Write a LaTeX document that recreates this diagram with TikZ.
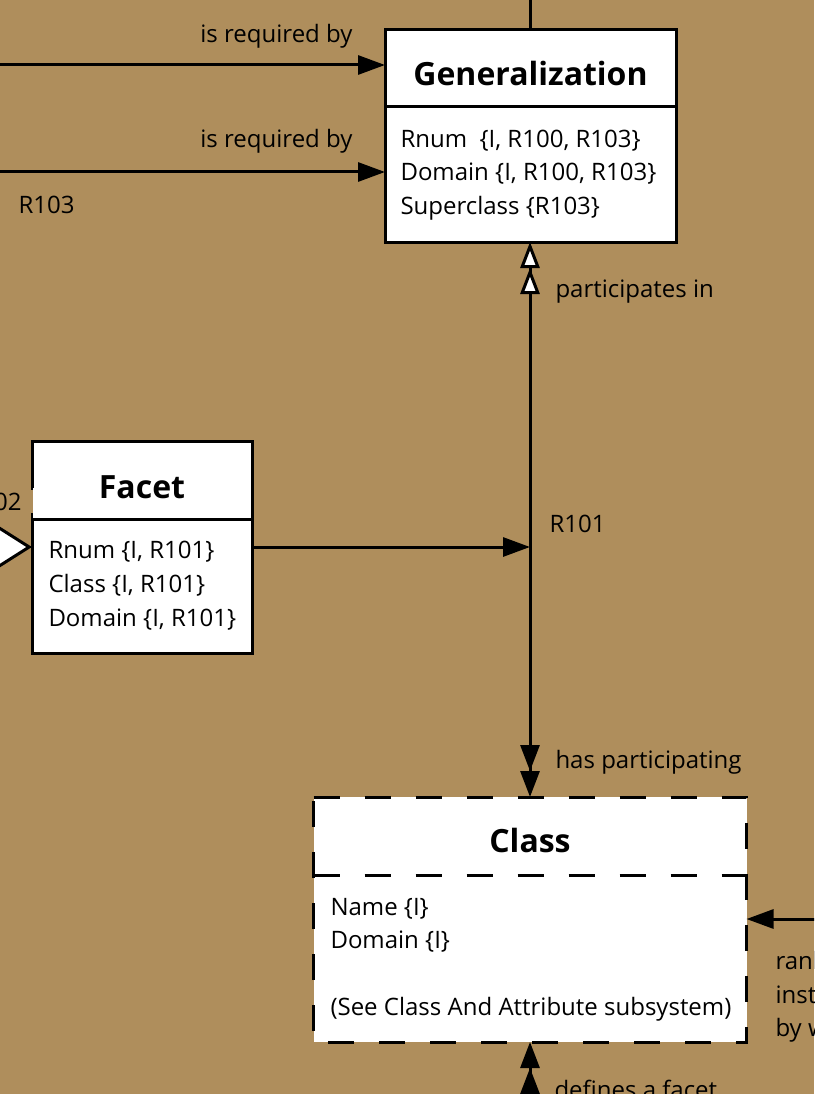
\documentclass[tikz,border=0pt]{standalone}
\usepackage{fontspec}
\setmainfont{Open Sans}
\usetikzlibrary{arrows.meta}
\definecolor{bg}{HTML}{AF8E5C}
\begin{document}
\begin{tikzpicture}[x=1pt,y=-1pt,line width=3pt,
  box/.style={draw,fill=white,line width=3pt,inner sep=0pt,outer sep=0pt,anchor=north west},
  dbox/.style={fill=white,inner sep=0pt,outer sep=0pt,anchor=north west},
  dashline/.style={dash pattern=on 26pt off 25pt},
  attr/.style={anchor=base west,font=\fontsize{24}{28}\selectfont,inner sep=0pt},
  ttl/.style={anchor=base,font=\fontsize{32}{38}\selectfont\bfseries,inner sep=0pt},
  lbl/.style={font=\fontsize{24}{28}\selectfont,inner sep=0pt},
  fa/.style={-{Triangle[length=27pt,width=19pt]}},
  ffa/.style={-{Triangle[length=26pt,width=19pt,sep=0pt]Triangle[length=26pt,width=19pt]}},
  ooa/.style={{Triangle[length=26pt,width=19pt,fill=white,sep=0pt]Triangle[length=26pt,width=19pt,fill=white]}-},
]
\fill[bg] (0,0) rectangle (814,1094);
\useasboundingbox (0,0) rectangle (814,1094);
\clip (0,0) rectangle (814,1094);

% Generalization
\node[box,minimum width=291pt,minimum height=212pt] (gen) at (385,30) {};
\draw (385,107) -- (676,107);
\node[ttl] (gent) at (530.5,86) {Generalization};
\node[attr] (ga1) at (399,148) {Rnum\ \ \{I, R100, R103\}};
\node[attr] (ga2) at (399,181) {Domain \{I, R100, R103\}};
\node[attr] (ga3) at (399,214) {Superclass \{R103\}};

% Facet
\node[box,minimum width=220pt,minimum height=212pt] (facet) at (32,441) {};
\draw (32,519) -- (252,519);
\node[ttl] (fat) at (142,498) {Facet};
\node[attr] (fa1) at (47,558) {Rnum \{I, R101\}};
\node[attr] (fa2) at (47,592) {Class \{I, R101\}};
\node[attr] (fa3) at (47,626) {Domain \{I, R101\}};

% Class (dashed)
\node[dbox,minimum width=433pt,minimum height=245pt] (cls) at (313.5,797) {};
\draw[dashline] (cls.north west) -- (cls.north east) -- (cls.south east) -- (cls.south west) -- cycle;
\draw[dashline] (313.5,875) -- (746.5,875);
\node[ttl] (clt) at (530,852) {Class};
\node[attr] (ca1) at (329,915) {Name \{I\}};
\node[attr] (ca2) at (329,948) {Domain \{I\}};
\node[attr] (ca3) at (329,1015) {(See Class And Attribute subsystem)};

% connectors
\coordinate (topend) at (530.5,-10);
\draw (topend) -- (gen.north);
\coordinate (l1) at (-10,65);
\coordinate (l2) at (-10,172);
\draw[fa] (l1) -- (gen.west |- l1);
\draw[fa] (l2) -- (gen.west |- l2);
\node[lbl,anchor=base east] (rq1) at (354,43) {is required by};
\node[lbl,anchor=base east] (rq2) at (354,148) {is required by};
\node[lbl,anchor=base west] (r103) at (17,213) {R103};

\coordinate (j) at (530,547);
\coordinate (gs) at (530,242);
\draw[ooa] (gs) -- (j);
\draw[ffa] (j) -- (cls.north);
\draw[fa] (facet.east |- j) -- (j);
\node[lbl,anchor=base west] (pin) at (554,297) {participates in};
\node[lbl,anchor=base west] (r101) at (548,532) {R101};
\node[lbl,anchor=base west] (hp) at (554,768) {has participating};

% R102 subtype arrow from the left
\coordinate (l3) at (-80,547);
\draw[-{Triangle[length=40pt,width=50pt,fill=white]}] (l3) -- (facet.west |- j);
\node[lbl,anchor=base east,fill=bg,inner xsep=11pt,inner ysep=3pt] (r102) at (34,510) {R102};
\fill[white] (33.4,488) rectangle (35,518);

% right arrow into Class
\coordinate (r1) at (830,919);
\draw[fa] (r1) -- (cls.east |- r1);
\node[lbl,anchor=base west] (rk1) at (774,969) {rank};
\node[lbl,anchor=base west] (rk2) at (774,1003) {inst};
\node[lbl,anchor=base west] (rk3) at (774,1036) {by w};

% bottom arrow into Class
\coordinate (b1) at (530,1110);
\draw[ffa] (b1) -- (cls.south);
\node[lbl,anchor=base west] (df) at (553,1098) {defines a facet};
\end{tikzpicture}
\end{document}
